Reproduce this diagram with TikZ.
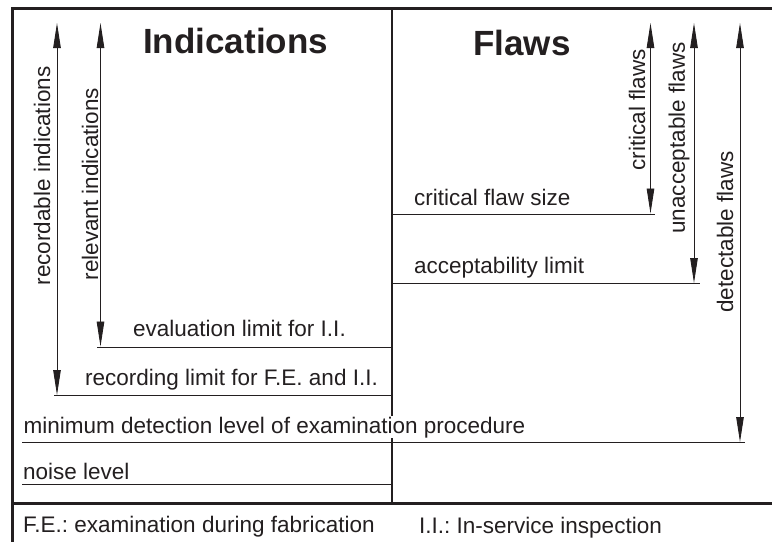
\documentclass[tikz,border=0pt]{standalone}
\usepackage{fontspec}
\setmainfont{Liberation Sans}
\usetikzlibrary{arrows.meta}
\definecolor{ink}{RGB}{35,31,32}
\frenchspacing
\begin{document}
\begin{tikzpicture}[x=1pt,y=-1pt,
  lbl/.style={inner sep=0pt, anchor=base west, font=\fontsize{22.5}{26}\selectfont, text=ink},
  rlbl/.style={inner sep=0pt, rotate=90, font=\fontsize{22.5}{26}\selectfont, text=ink},
  head/.style={inner sep=0pt, anchor=base west, font=\fontsize{35}{40}\selectfont\bfseries, text=ink},
  frameline/.style={line width=3pt, draw=ink},
  divider/.style={line width=1.6pt, draw=ink},
  limit/.style={line width=0.9pt, draw=ink},
  span/.style={line width=0.9pt, draw=ink, {Triangle[length=25pt,width=7.5pt]}-{Triangle[length=25pt,width=7.5pt]}},
]
\useasboundingbox (0,0) rectangle (772,542);
% frame
\coordinate (tl) at (11,8.5);
\coordinate (tr) at (772,8.5);
\coordinate (lt) at (12.5,7);
\coordinate (lb) at (12.5,542);
\coordinate (bl) at (11,503);
\coordinate (br) at (772,503);
\coordinate (mt) at (392,8.5);
\coordinate (mb) at (392,503);
\draw[divider] (mt) -- (mb);
% headings
\node[head] (hind) at (143,53) {Indications};
\node[head] (hfla) at (473,55) {Flaws};
% limit lines
\coordinate (evL) at (97,347);   \coordinate (evR) at (392,347);
\coordinate (rcL) at (54,395.5); \coordinate (rcR) at (392,395.5);
\coordinate (mdL) at (22,442.5); \coordinate (mdR) at (745,442.5);
\coordinate (nsL) at (22,484);   \coordinate (nsR) at (392,484);
\coordinate (crL) at (392,214);  \coordinate (crR) at (655,214);
\coordinate (acL) at (392,283.5);\coordinate (acR) at (700,283.5);
\draw[limit] (evL) -- (evR);
\draw[limit] (rcL) -- (rcR);
\draw[limit] (mdL) -- (mdR);
\draw[limit] (nsL) -- (nsR);
\draw[limit] (crL) -- (crR);
\draw[limit] (acL) -- (acR);
% limit labels
\node[lbl] (tev) at (133,336) {evaluation limit for I.I.};
\node[lbl] (trc) at (85,385) {recording limit for F.E. and I.I.};
\node[lbl, fill=white, inner sep=0.5pt] (tmd) at (23,433) {minimum detection level of examination procedure};
\node[lbl] (tns) at (23,479) {noise level};
\node[lbl] (tcr) at (414,205) {critical flaw size};
\node[lbl] (tac) at (414,273) {acceptability limit};
% span arrows
\coordinate (a1t) at (57,23);    \coordinate (a1b) at (57,395);
\coordinate (a2t) at (100.5,23); \coordinate (a2b) at (100.5,346.5);
\coordinate (a3t) at (650.5,23); \coordinate (a3b) at (650.5,213.5);
\coordinate (a4t) at (694,23);   \coordinate (a4b) at (694,283);
\coordinate (a5t) at (740,23);   \coordinate (a5b) at (740,442);
\draw[span] (a1t) -- (a1b);
\draw[span] (a2t) -- (a2b);
\draw[span] (a3t) -- (a3b);
\draw[span] (a4t) -- (a4b);
\draw[span] (a5t) -- (a5b);
% span labels
\node[rlbl] (r1) at (42,176) {recordable indications};
\node[rlbl] (r2) at (90,184) {relevant indications};
\node[rlbl] (r3) at (637,110) {critical flaws};
\node[rlbl] (r4) at (679,138) {unacceptable flaws};
\node[rlbl] (r5) at (725,232) {detectable flaws};
% frame lines
\draw[frameline] (tl) -- (tr);
\draw[frameline] (lt) -- (lb);
\draw[frameline] (bl) -- (br);
% footer
\node[lbl] (f1) at (23,532) {F.E.: examination during fabrication};
\node[lbl] (f2) at (419,533) {I.I.: In-service inspection};
\end{tikzpicture}
\end{document}
